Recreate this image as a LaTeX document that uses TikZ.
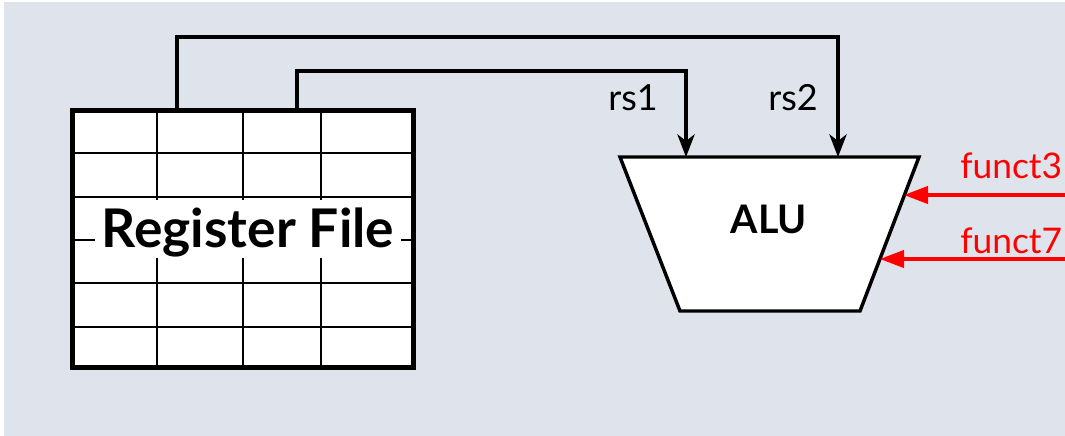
\documentclass[tikz,border=0pt]{standalone}
\usepackage{fontspec}
\setmainfont{Lato}
\usetikzlibrary{arrows.meta}
\definecolor{bg}{RGB}{223,227,236}
\definecolor{fred}{RGB}{255,0,0}
\begin{document}
\begin{tikzpicture}[x=0.75pt,y=-0.75pt,
  conn/.style={line width=2.3pt,-{Stealth[length=17pt,width=13pt,inset=5pt]}},
  redconn/.style={line width=2.3pt,draw=fred,-{Triangle[length=18pt,width=13pt]}},
  grid/.style={line width=1.1pt},
  box/.style={line width=2.6pt},
  lbl/.style={font=\fontsize{27pt}{31pt}\selectfont,inner sep=0pt,anchor=base},
  redlbl/.style={font=\fontsize{26.5pt}{31pt}\selectfont,text=fred,inner sep=0pt,anchor=base west}]
\useasboundingbox (0,0) rectangle (1065,436);
\clip (0,0) rectangle (1065,436);
\fill[bg] (4,2) rectangle (1065,436);
% register file
\node[box,draw,fill=white,minimum width=255pt,minimum height=191.25pt,inner sep=0pt] (rf) at (243,239) {};
\foreach \yy in {153,197,240,283,327} \draw[grid] (73,\yy) -- (413,\yy);
\foreach \xx in {157,243,321} \draw[grid] (\xx,111) -- (\xx,367);
\node[fill=white,inner xsep=5pt,inner ysep=0pt,text height=35.25pt,text depth=8.25pt,anchor=base,
  font=\fontsize{40pt}{46pt}\selectfont\bfseries] (rflabel) at (248,247) {Register File};
\draw[box] (rf.north west) rectangle (rf.south east);
% ALU
\coordinate (atl) at (620,157);
\coordinate (atr) at (919,157);
\coordinate (abr) at (860,311);
\coordinate (abl) at (680,311);
\draw[box,fill=white,line join=miter] (atl) -- (atr) -- (abr) -- (abl) -- cycle;
\node[inner sep=0pt,anchor=base,font=\fontsize{29.5pt}{34pt}\selectfont\bfseries] (alu) at (769,233) {ALU};
% connectors
\coordinate (s2) at (177,111);
\coordinate (s1) at (297,111);
\coordinate (d1) at (686,157);
\coordinate (d2) at (838,157);
\draw[conn] (s2) -- ++(0,-74) -| (d2);
\draw[conn] (s1) -- ++(0,-40) -| (d1);
\node[lbl] (rs1) at (633,110) {rs1};
\node[lbl] (rs2) at (793,110) {rs2};
% funct inputs
\coordinate (f3s) at (1070,195);
\coordinate (f3d) at (904,195);
\coordinate (f7s) at (1070,259);
\coordinate (f7d) at (880,259);
\draw[redconn] (f3s) -- (f3d);
\draw[redconn] (f7s) -- (f7d);
\node[redlbl] (f3) at (960,178) {funct3};
\node[redlbl] (f7) at (960,253) {funct7};
\end{tikzpicture}
\end{document}
